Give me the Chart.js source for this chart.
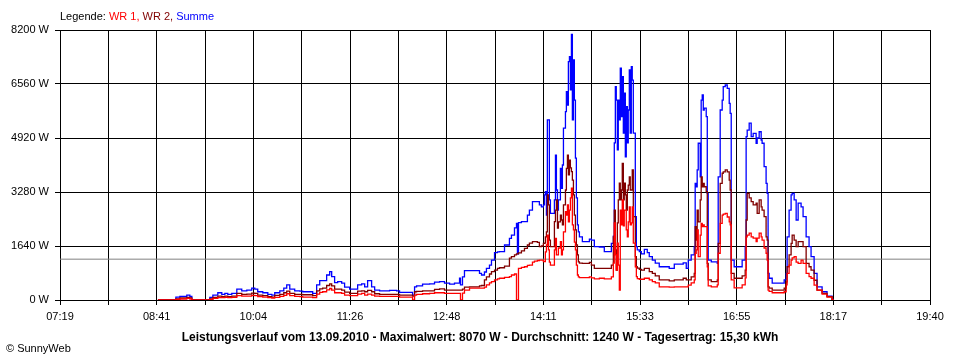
<!DOCTYPE html>
<html lang="de">
<head>
<meta charset="UTF-8">
<title>Leistungsverlauf 13.09.2010</title>
<script src="https://cdn.jsdelivr.net/npm/chart.js"></script>
<style>
  body { margin: 0; background: #fff; }
  #wrap { width: 960px; height: 360px; }
</style>
</head>
<body>
<div id="wrap"><canvas id="chart" width="960" height="360"></canvas></div>
<script>
// Zeitpunkte in Minuten seit Mitternacht
const zeiten = [
  522.4, 524.1, 535.1, 537.7, 541.1, 544.5, 547.0, 549.6, 551.3, 563.2,
  566.6, 569.2, 573.4, 576.8, 579.4, 581.9, 585.3, 589.6, 593.8, 598.1,
  602.3, 604.9, 607.4, 611.7, 616.0, 619.4, 621.9, 626.2, 629.6, 632.1,
  634.7, 638.9, 643.2, 645.7, 651.7, 654.2, 657.6, 660.2, 662.7, 666.1,
  668.7, 670.4, 672.9, 675.5, 678.9, 681.4, 685.7, 690.0, 692.5, 695.9,
  698.5, 701.0, 704.4, 707.0, 711.2, 719.7, 725.7, 728.2, 736.7, 739.3,
  741.0, 742.7, 747.8, 753.8, 758.0, 762.3, 766.5, 770.8, 775.0, 779.3,
  780.1, 781.8, 783.5, 787.8, 792.0, 796.3, 798.0, 800.5, 802.2, 804.8,
  806.5, 809.1, 811.6, 813.3, 817.6, 821.8, 823.5, 826.1, 827.8, 828.6,
  829.5, 832.0, 834.6, 837.1, 838.8, 841.4, 843.1, 845.6, 847.3, 849.0,
  850.7, 851.6, 852.4, 853.3, 854.1, 855.0, 855.8, 856.7, 858.4, 860.1,
  861.0, 861.8, 862.7, 863.5, 865.2, 866.1, 866.9, 867.8, 869.5, 870.3,
  871.2, 872.0, 872.9, 873.7, 874.6, 875.4, 876.3, 877.1, 878.0, 878.8,
  879.7, 880.5, 881.4, 883.9, 888.2, 889.9, 891.6, 894.1, 898.4, 902.6,
  905.2, 908.6, 910.3, 911.1, 912.0, 912.8, 913.7, 914.5, 915.4, 916.2,
  917.1, 917.9, 918.8, 919.6, 920.5, 921.3, 922.2, 923.0, 923.9, 924.7,
  925.6, 926.4, 927.3, 929.0, 929.9, 930.7, 932.4, 934.1, 936.7, 939.2,
  940.9, 943.5, 946.0, 949.4, 953.7, 957.9, 962.2, 966.4, 969.8, 972.4,
  974.1, 976.6, 979.2, 980.0, 980.9, 981.7, 982.6, 984.3, 985.1, 986.0,
  986.9, 987.7, 989.4, 990.3, 991.1, 993.7, 997.9, 998.8, 999.6, 1001.3,
  1003.0, 1003.9, 1005.6, 1007.3, 1009.0, 1009.8, 1010.7, 1013.2, 1019.2, 1020.0,
  1022.6, 1023.4, 1024.3, 1026.0, 1027.7, 1029.4, 1031.9, 1032.8, 1034.5, 1036.2,
  1037.0, 1038.7, 1040.4, 1041.3, 1042.1, 1043.0, 1045.6, 1054.1, 1055.8, 1057.5,
  1058.3, 1060.0, 1061.7, 1062.6, 1064.3, 1066.0, 1067.7, 1070.2, 1071.9, 1074.5,
  1077.0, 1078.7, 1081.3, 1083.8, 1088.1, 1092.3, 1096.6, 1097.4
];

// Leistung in W
const wr1 = [
  0, 0, 0, 20, 30, 30, 50, 30, 0, 0,
  20, 50, 70, 70, 80, 70, 80, 130, 120, 120,
  140, 130, 100, 90, 70, 60, 80, 110, 140, 190,
  130, 110, 100, 90, 90, 70, 180, 230, 250, 310,
  350, 300, 220, 220, 200, 150, 130, 130, 180, 200,
  150, 180, 150, 120, 110, 110, 110, 90, 90, 0,
  150, 170, 190, 200, 220, 220, 200, 200, 200, 200,
  0, 210, 300, 360, 360, 360, 360, 390, 460, 520,
  560, 610, 640, 660, 690, 710, 760, 790, 0, 0,
  960, 990, 1010, 1050, 1060, 1150, 1180, 1200, 1210, 1210,
  1170, 1170, 1460, 1670, 1970, 1520, 1150, 1060, 1060, 1520,
  1870, 1370, 1370, 1580, 1770, 1370, 1520, 2070, 2680, 2580,
  2890, 2370, 2730, 3100, 3400, 2280, 2130, 1760, 1520, 1060,
  760, 700, 680, 680, 680, 700, 670, 640, 660, 640,
  640, 700, 1120, 2340, 1370, 910, 1730, 1060, 300, 2730,
  2280, 3040, 2250, 2730, 2730, 2130, 1920, 2370, 2830, 2280,
  2340, 2830, 1730, 1010, 710, 650, 630, 630, 660, 660,
  610, 560, 520, 400, 400, 390, 400, 400, 400, 400,
  450, 520, 610, 1420, 1520, 2130, 1320, 1970, 2330, 2230,
  2280, 2230, 2230, 1010, 430, 400, 400, 460, 1420, 2330,
  2580, 2610, 2630, 2520, 2370, 2280, 610, 370, 370, 460,
  670, 1920, 1970, 2030, 1920, 1880, 1770, 1880, 2030, 1920,
  1820, 1580, 1420, 1210, 300, 260, 220, 220, 250, 460,
  810, 1060, 1210, 1280, 1320, 1150, 1110, 1210, 1110, 810,
  710, 660, 450, 300, 180, 90, 10, 0
];

const wr2 = [
  0, 0, 0, 30, 60, 60, 80, 60, 0, 0,
  30, 80, 120, 100, 120, 100, 120, 200, 170, 180,
  210, 200, 150, 130, 100, 90, 140, 170, 220, 270,
  200, 170, 170, 160, 160, 130, 280, 340, 360, 440,
  490, 430, 330, 330, 300, 240, 200, 200, 270, 280,
  250, 290, 250, 190, 170, 170, 170, 150, 150, 120,
  250, 260, 280, 280, 320, 340, 300, 300, 300, 300,
  300, 330, 390, 400, 400, 430, 440, 610, 700, 790,
  860, 910, 960, 980, 1030, 1270, 1320, 1370, 1400, 1400,
  1430, 1490, 1570, 1670, 1730, 1770, 1770, 1750, 1620, 1640,
  1720, 1730, 1920, 2070, 3190, 2890, 1820, 1620, 1620, 2380,
  2730, 3040, 2180, 2370, 2580, 2430, 2280, 2890, 3340, 4000,
  4400, 3800, 4250, 4010, 3900, 3640, 3190, 2580, 2130, 1670,
  1370, 1160, 1120, 1110, 1110, 1140, 1060, 960, 960, 960,
  960, 1060, 1920, 2730, 1520, 910, 2340, 3040, 3550, 3040,
  3340, 4150, 3040, 3550, 3190, 2730, 3340, 3490, 3740, 3340,
  3340, 3950, 2530, 1320, 1010, 970, 930, 910, 960, 960,
  860, 810, 730, 610, 610, 580, 610, 610, 660, 610,
  610, 700, 810, 2230, 1820, 2730, 2370, 3040, 3740, 3440,
  3540, 3440, 3290, 1110, 610, 560, 560, 610, 1720, 3540,
  3850, 3890, 3950, 3890, 3640, 3340, 810, 660, 660, 730,
  910, 2430, 3240, 3100, 2990, 2890, 2940, 2630, 3040, 2830,
  2730, 2530, 1920, 1820, 400, 360, 300, 300, 360, 550,
  1010, 1370, 1720, 1970, 1820, 1620, 1770, 1770, 1620, 1110,
  1010, 910, 600, 300, 200, 100, 15, 0
];

const summe = [
  0, 0, 0, 90, 110, 110, 150, 110, 0, 0,
  80, 150, 220, 170, 200, 170, 200, 330, 280, 300,
  360, 330, 250, 220, 170, 150, 220, 280, 360, 460,
  330, 280, 270, 250, 250, 200, 460, 590, 590, 760,
  860, 710, 530, 560, 510, 390, 330, 330, 460, 490,
  400, 590, 400, 300, 280, 290, 280, 230, 230, 150,
  400, 430, 480, 490, 540, 560, 510, 480, 510, 660,
  460, 700, 890, 890, 890, 810, 760, 850, 960, 1060,
  1210, 1440, 1460, 1470, 1670, 1870, 1970, 2190, 2330, 1400,
  2350, 2380, 2380, 2580, 2730, 2990, 2990, 2990, 2890, 2830,
  2890, 3190, 3290, 2580, 5470, 5470, 3040, 2630, 2630, 3040,
  4400, 3340, 2730, 3040, 4000, 3390, 4100, 5220, 5720, 6330,
  5920, 7240, 7390, 6380, 8070, 5470, 7290, 6070, 4310, 3100,
  2280, 2070, 1920, 1770, 1770, 1850, 1820, 1620, 1610, 1470,
  1470, 1720, 1940, 4770, 6480, 6070, 4560, 6070, 5470, 7040,
  5570, 6780, 5070, 6280, 4350, 5870, 4770, 5770, 6990, 5070,
  7090, 6680, 5070, 2530, 1620, 1520, 1470, 1400, 1540, 1440,
  1320, 1210, 1120, 1010, 1010, 960, 1090, 1090, 1130, 960,
  1210, 1370, 1620, 3540, 3440, 3950, 4760, 3740, 6070, 6230,
  5770, 5830, 5570, 3240, 1210, 1160, 1160, 1110, 3740, 5770,
  6070, 6480, 6530, 6430, 5970, 5670, 1210, 1010, 1010, 1210,
  1620, 4960, 5160, 5370, 4960, 5060, 4760, 4920, 5110, 4860,
  4760, 4050, 3540, 3240, 810, 660, 510, 510, 610, 810,
  1920, 2730, 3190, 3240, 3040, 2430, 2940, 2830, 2530, 1920,
  1620, 1320, 810, 400, 250, 120, 20, 0
];

const durchschnitt = 1240;
const xStart = 439;   // 07:19
const xEnde = 1180;   // 19:40
const xTickLabels = ['07:19', '08:41', '10:04', '11:26', '12:48', '14:11', '15:33', '16:55', '18:17', '19:40'];
const yTickValues = [0, 1640, 3280, 4920, 6560, 8200];

const titel = 'Leistungsverlauf vom 13.09.2010 - Maximalwert: 8070 W - Durchschnitt: 1240 W - Tagesertrag: 15,30 kWh';
const legende = [['Legende: ', '#000000'], ['WR 1, ', '#ff0000'], ['WR 2, ', '#800000'], ['Summe', '#0000ff']];

const schrift = '"Liberation Sans", Arial, sans-serif';

// 18 Rasterabschnitte, Beschriftung an jedem zweiten
const xTickValues = [];
for (let i = 0; i <= 18; i++) xTickValues.push(xStart + i * (xEnde - xStart) / 18);

function punkte(werte) {
  return zeiten.map((t, i) => ({ x: t, y: werte[i] }));
}

const beschriftung = {
  id: 'beschriftung',
  afterDraw(chart) {
    const ctx = chart.ctx;
    ctx.save();
    ctx.textBaseline = 'alphabetic';
    ctx.font = '11px ' + schrift;
    let x = 60;
    for (const [text, farbe] of legende) {
      ctx.fillStyle = farbe;
      ctx.fillText(text, x, 20);
      x += ctx.measureText(text).width;
    }
    ctx.fillStyle = '#000';
    ctx.font = 'bold 12px ' + schrift;
    ctx.textAlign = 'center';
    ctx.fillText(titel, 480, 341);
    ctx.textAlign = 'left';
    ctx.font = '11px ' + schrift;
    ctx.fillText('\u00a9 SunnyWeb', 6, 352);
    ctx.restore();
  }
};

new Chart(document.getElementById('chart'), {
  type: 'line',
  data: {
    datasets: [
      { label: 'WR 1', data: punkte(wr1), borderColor: '#ff0000', borderWidth: 1.3, pointRadius: 0, stepped: true },
      { label: 'WR 2', data: punkte(wr2), borderColor: '#800000', borderWidth: 1.3, pointRadius: 0, stepped: true },
      { label: 'Summe', data: punkte(summe), borderColor: '#0000ff', borderWidth: 1.3, pointRadius: 0, stepped: true },
      { label: 'Durchschnitt', data: [{ x: xStart, y: durchschnitt }, { x: xEnde, y: durchschnitt }],
        borderColor: '#808080', borderWidth: 1, pointRadius: 0 }
    ]
  },
  options: {
    responsive: false,
    animation: false,
    devicePixelRatio: 1,
    layout: { padding: { top: 30, right: 30, bottom: 0, left: 0 } },
    plugins: { legend: { display: false }, tooltip: { enabled: false } },
    scales: {
      x: {
        type: 'linear',
        min: xStart,
        max: xEnde,
        afterBuildTicks: s => { s.ticks = xTickValues.map(v => ({ value: v })); },
        afterFit: s => { s.height = 60; },
        ticks: {
          autoSkip: false,
          maxRotation: 0,
          padding: 5,
          color: '#000',
          font: { family: schrift, size: 11 },
          callback: (v, i) => (i % 2 === 0 ? xTickLabels[i / 2] : '')
        },
        grid: { color: '#000', lineWidth: 1, tickLength: 5 },
        border: { color: '#000' }
      },
      y: {
        min: 0,
        max: 8200,
        afterBuildTicks: s => { s.ticks = yTickValues.map(v => ({ value: v })); },
        afterFit: s => { s.width = 60; },
        ticks: {
          padding: 6,
          color: '#000',
          font: { family: schrift, size: 11 },
          callback: v => v + ' W'
        },
        grid: { color: '#000', lineWidth: 1, tickLength: 5 },
        border: { color: '#000' }
      }
    }
  },
  plugins: [beschriftung]
});
</script>
</body>
</html>
